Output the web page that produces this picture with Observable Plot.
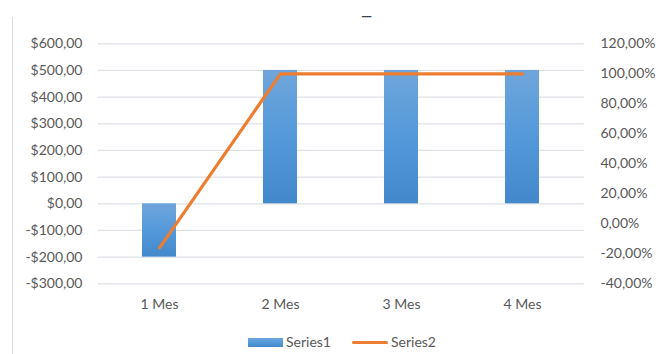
<!DOCTYPE html>
<html>
<head>
<meta charset="utf-8">
<script src="https://cdn.jsdelivr.net/npm/d3@7"></script>
<script src="https://cdn.jsdelivr.net/npm/@observablehq/plot@0.6"></script>
<style>
  html, body { margin: 0; padding: 0; background: #fff; }
  #chart { position: relative; width: 656px; height: 354px; overflow: hidden; font-family: Lato, sans-serif; }
  #edge { position: absolute; left: 12px; top: 17px; bottom: 0; border-left: 1px solid #dcdfe3; }
  #chart svg { display: block; }
  #legend { height: 32px; position: relative; font-size: 14px; color: #595959; }
  .item { position: absolute; top: 11px; display: flex; align-items: center; gap: 3px; line-height: 18px; }
  .swatch { width: 35px; height: 9px; background: linear-gradient(#6fa6db, #5499da 50%, #4388ca); }
  .stroke { width: 36px; height: 3px; border-radius: 2px; background: #ed7d31; }
</style>
</head>
<body>
<div id="chart"><div id="edge"></div></div>
<script>
// Months on the category axis
const months = ["1 Mes", "2 Mes", "3 Mes", "4 Mes"];
// Series1: amounts in dollars (left axis)
const series1 = [-200, 500, 500, 500];
// Series2: percentages (right axis)
const series2 = [-0.16, 1.0, 1.0, 1.0];
// Axis ticks
const leftTicks = [-300, -200, -100, 0, 100, 200, 300, 400, 500, 600];
const rightTicks = [-0.4, -0.2, 0, 0.2, 0.4, 0.6, 0.8, 1.0, 1.2];

// The right axis spans the same height as the left one
const pct = d3.scaleLinear([-0.4, 1.2], [-300, 600]);

const money = (v) => (v < 0 ? "-$" : "$") + Math.abs(v) + ",00";
const percent = (d) => Math.round(pct.invert(d) * 100) + ",00%";

const bars = months.map((m, i) => ({month: m, value: series1[i]}));
const line = months.map((m, i) => ({month: m, value: pct(series2[i])}));

const gradient = () => {
  const defs = d3.create("svg:defs");
  const g = defs.append("linearGradient")
    .attr("id", "barFill").attr("x1", 0).attr("y1", 0).attr("x2", 0).attr("y2", 1);
  g.append("stop").attr("offset", "0%").attr("stop-color", "#6fa6db");
  g.append("stop").attr("offset", "50%").attr("stop-color", "#5499da");
  g.append("stop").attr("offset", "100%").attr("stop-color", "#4388ca");
  return defs.node();
};

const chart = Plot.plot({
  width: 656,
  height: 322,
  marginLeft: 98,
  marginRight: 72,
  marginTop: 43.3,
  marginBottom: 38.7,
  style: {fontFamily: "Lato, sans-serif", fontSize: "14px", color: "#595959", background: "transparent"},
  x: {type: "band", domain: months, paddingInner: 0.716, paddingOuter: 0.358, label: null},
  y: {domain: [-300, 600], label: null},
  marks: [
    gradient,
    Plot.gridY(leftTicks, {stroke: "#dde1e6", strokeOpacity: 1, strokeWidth: 1.2}),
    Plot.barY(bars, {x: "month", y: "value", fill: "url(#barFill)"}),
    Plot.line(line, {x: "month", y: "value", stroke: "#ed7d31", strokeWidth: 3.2, strokeLinecap: "round", strokeLinejoin: "round"}),
    Plot.axisY(leftTicks, {anchor: "left", tickSize: 0, tickPadding: 16, tickFormat: money, label: null, fill: "#595959"}),
    Plot.axisY(rightTicks.map(pct), {anchor: "right", tickSize: 0, tickPadding: 16, tickFormat: percent, label: null, fill: "#595959"}),
    Plot.axisX({tickSize: 0, tickPadding: 15, label: null, fill: "#595959"}),
    Plot.text(["—"], {frameAnchor: "top", dy: -33, dx: 25, fill: "#3a4350", fontSize: 14, fontWeight: 700})
  ]
});

const legend = document.createElement("div");
legend.id = "legend";
legend.innerHTML =
  '<div class="item" style="left:248px"><span class="swatch"></span><span>Series1</span></div>' +
  '<div class="item" style="left:352px"><span class="stroke"></span><span>Series2</span></div>';

const root = document.getElementById("chart");
root.appendChild(chart);
root.appendChild(legend);
</script>
</body>
</html>
